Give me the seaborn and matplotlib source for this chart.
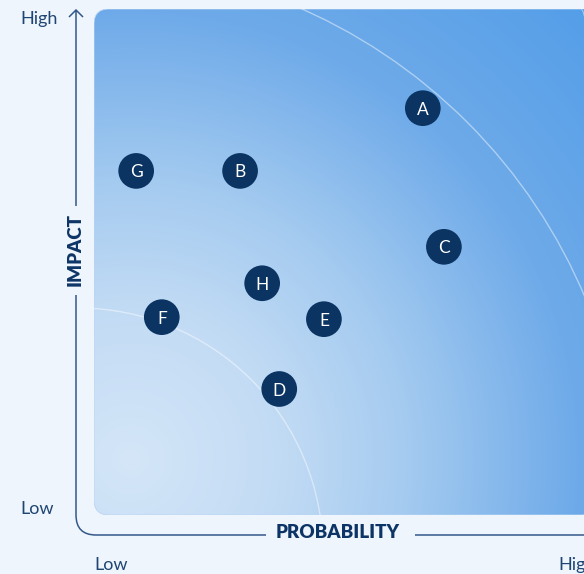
import numpy as np
import pandas as pd
import matplotlib
matplotlib.use("Agg")
import matplotlib.pyplot as plt
import seaborn as sns
from matplotlib.colors import LinearSegmentedColormap
from matplotlib.patches import FancyBboxPatch, Ellipse, PathPatch
from matplotlib.path import Path

# Risk register: probability and impact scores on a 0-100 scale
risk_ids = ["A", "B", "C", "D", "E", "F", "G", "H"]
probability = [65.5, 29.1, 69.7, 36.9, 45.8, 13.5, 8.4, 33.5]
impact = [80.4, 68.0, 53.0, 24.9, 38.7, 39.1, 68.0, 45.8]

x_title = "PROBABILITY"
y_title = "IMPACT"
low_label = "Low"
high_label = "High"

df = pd.DataFrame({"risk": risk_ids, "probability": probability, "impact": impact})

W, H, DPI = 584, 574, 100
BG = "#eef5fd"
NAVY = "#0b3463"
LINE = "#34588a"
LABEL = "#1f4673"

sns.set_theme(style="white")
plt.rcParams["font.family"] = ["Lato", "DejaVu Sans"]

fig = plt.figure(figsize=(W / DPI, H / DPI), dpi=DPI)
fig.patch.set_facecolor(BG)

# Decoration layer in pixel coordinates (y pointing down)
deco = fig.add_axes([0, 0, 1, 1])
deco.set_xlim(0, W)
deco.set_ylim(H, 0)
deco.axis("off")

# Plot panel
PX0, PX1, PY0, PY1 = 94, 596, 9, 515
ax = fig.add_axes([PX0 / W, 1 - PY1 / H, (PX1 - PX0) / W, (PY1 - PY0) / H])
sx = (PX1 - PX0) / 100.0
sy = (PY1 - PY0) / 100.0


def to_data(px, py):
    return (px - PX0) / sx, (PY1 - py) / sy


# Radial glow from the low/low corner
gcx, gcy = to_data(130, 460)
gx = np.linspace(0, 100, 500)
gy = np.linspace(0, 100, 500)
GX, GY = np.meshgrid(gx, gy)
dist = np.hypot((GX - gcx) * sx, (GY - gcy) * sy)
stops = [(0, "#d4e6f8"), (150, "#c2dbf4"), (275, "#a5cbf0"),
         (450, "#6eaae9"), (680, "#4f9ce8")]
cmap = LinearSegmentedColormap.from_list("glow", [(d / 680, c) for d, c in stops])
im = ax.imshow(dist, extent=(0, 100, 0, 100), origin="lower", cmap=cmap,
               vmin=0, vmax=680, aspect="auto", zorder=0, interpolation="bilinear")

panel = FancyBboxPatch((0, 0), 100, 100, boxstyle="round,pad=0,rounding_size=3",
                       transform=ax.transData, facecolor="none",
                       edgecolor="#b9d5f2", lw=0.6, zorder=1)
ax.add_patch(panel)
im.set_clip_path(panel)

# Concentric severity arcs
for (acx, acy, r) in [(78, 553, 245), (80, 510, 548)]:
    dcx, dcy = to_data(acx, acy)
    arc = Ellipse((dcx, dcy), 2 * r / sx, 2 * r / sy, fill=False,
                  edgecolor="white", alpha=0.45, lw=1.0, zorder=2)
    ax.add_patch(arc)
    arc.set_clip_path(panel)

sns.scatterplot(data=df, x="probability", y="impact", s=660, color=NAVY,
                edgecolor="none", linewidth=0, legend=False, ax=ax, zorder=4)
for rid, px, py in zip(df["risk"], df["probability"], df["impact"]):
    ax.text(px, py, rid, ha="center", va="center_baseline", color="white",
            fontsize=12.5, zorder=5)

ax.set_xlim(0, 100)
ax.set_ylim(0, 100)
ax.axis("off")

# Axis guide lines with rounded corner and arrow
verts = [(76, 10), (76, 206),
         (76, 295), (76, 515), (76, 535), (96, 535), (266, 535),
         (415, 535), (600, 535),
         (69, 17), (76, 10), (83, 17)]
codes = [Path.MOVETO, Path.LINETO,
         Path.MOVETO, Path.LINETO, Path.CURVE3, Path.CURVE3, Path.LINETO,
         Path.MOVETO, Path.LINETO,
         Path.MOVETO, Path.LINETO, Path.LINETO]
deco.add_patch(PathPatch(Path(verts, codes), facecolor="none", edgecolor=LINE,
                         lw=1.1, capstyle="butt", joinstyle="miter"))

deco.text(20, 19, high_label, ha="left", va="center", fontsize=13, color=LABEL)
deco.text(20, 509, low_label, ha="left", va="center", fontsize=13, color=LABEL)
deco.text(94, 565, low_label, ha="left", va="center", fontsize=13, color=LABEL)
deco.text(558, 565, high_label, ha="left", va="center", fontsize=13, color=LABEL)
deco.text(75, 250, y_title, ha="center", va="center", rotation=90,
          fontsize=13.5, fontweight="heavy", color="#0d3466")
deco.text(338, 533, x_title, ha="center", va="center",
          fontsize=13.5, fontweight="heavy", color="#0d3466")

fig.savefig("out.png", dpi=DPI, facecolor=BG)
